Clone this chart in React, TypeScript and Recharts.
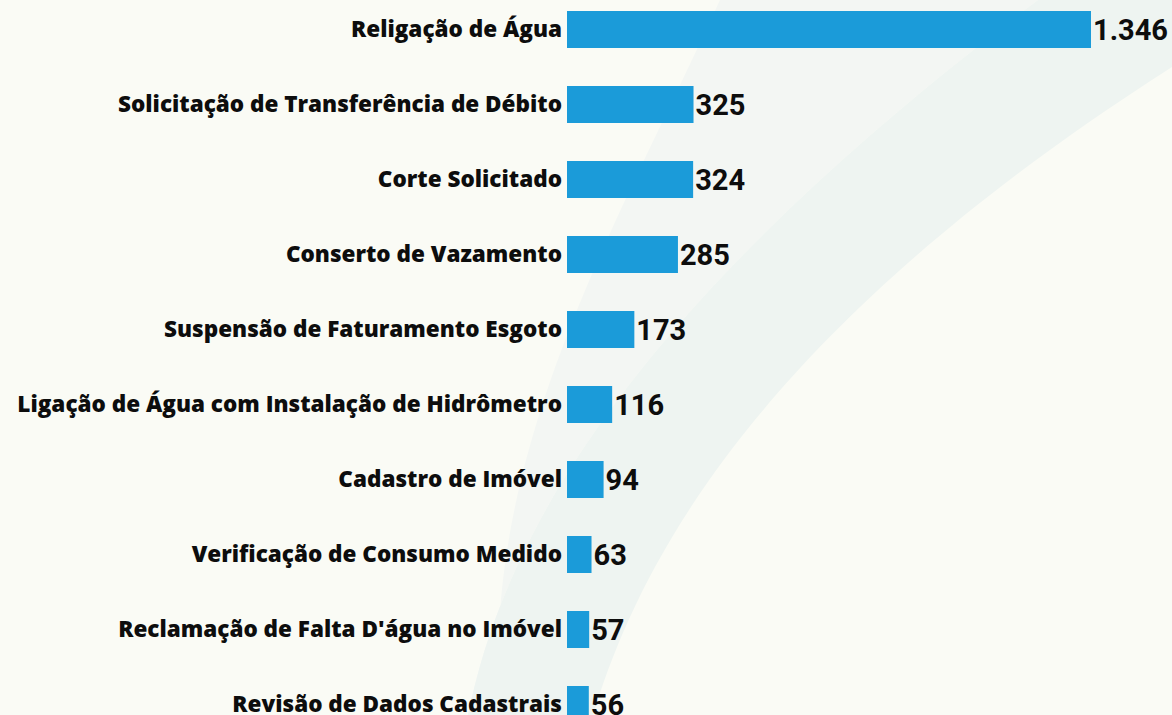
import { BarChart, Bar, XAxis, YAxis, LabelList } from "recharts";

const services = [
  "Religação de Água",
  "Solicitação de Transferência de Débito",
  "Corte Solicitado",
  "Conserto de Vazamento",
  "Suspensão de Faturamento Esgoto",
  "Ligação de Água com Instalação de Hidrômetro",
  "Cadastro de Imóvel",
  "Verificação de Consumo Medido",
  "Reclamação de Falta D'água no Imóvel",
  "Revisão de Dados Cadastrais",
];

const totals = [1346, 325, 324, 285, 173, 116, 94, 63, 57, 56];

const data = services.map((name, i) => ({ name, total: totals[i] }));

// 1346 -> "1.346"
const fmt = (v: any) => String(v).replace(/\B(?=(\d{3})+(?!\d))/g, ".");

export default function App() {
  return (
    <div
      style={{
        position: "fixed",
        top: 0,
        left: 0,
        width: 1172,
        height: 715,
        overflow: "hidden",
        background: "#fafbf5",
      }}
    >
      {/* faint swoosh behind the chart */}
      <svg
        width={1172}
        height={715}
        style={{ position: "absolute", top: 0, left: 0 }}
      >
        <path
          d="M720 0 C620 220 480 450 500 715 L468 715 C500 560 600 330 1038 0 Z"
          fill="#f3f6f3"
        />
        <path
          d="M468 715 C500 560 600 330 1038 0 L1172 0 L1172 67 C760 330 640 560 593 715 Z"
          fill="#eef4f1"
        />
      </svg>
      <div style={{ position: "absolute", top: -8, left: 0 }}>
        <BarChart
          width={1172}
          height={750}
          data={data}
          layout="vertical"
          margin={{ top: 0, right: 81, bottom: 0, left: 0 }}
        >
          <XAxis type="number" hide domain={[0, "dataMax"]} scale="linear" />
          <YAxis
            type="category"
            dataKey="name"
            width={567}
            interval={0}
            tickLine={false}
            axisLine={false}
            tickSize={0}
            tickMargin={5}
            tick={{
              fill: "#0d0d0d",
              fontSize: 22.5,
              fontWeight: 800,
              fontFamily: "'Open Sans', sans-serif",
            }}
          />
          <Bar
            dataKey="total"
            fill="#1b9bd9"
            barSize={37}
            isAnimationActive={false}
          >
            <LabelList
              dataKey="total"
              position="right"
              offset={2}
              formatter={fmt}
              style={{
                fill: "#0d0d0d",
                fontSize: 29,
                fontWeight: 700,
                fontFamily: "Roboto, sans-serif",
              }}
            />
          </Bar>
        </BarChart>
      </div>
    </div>
  );
}
